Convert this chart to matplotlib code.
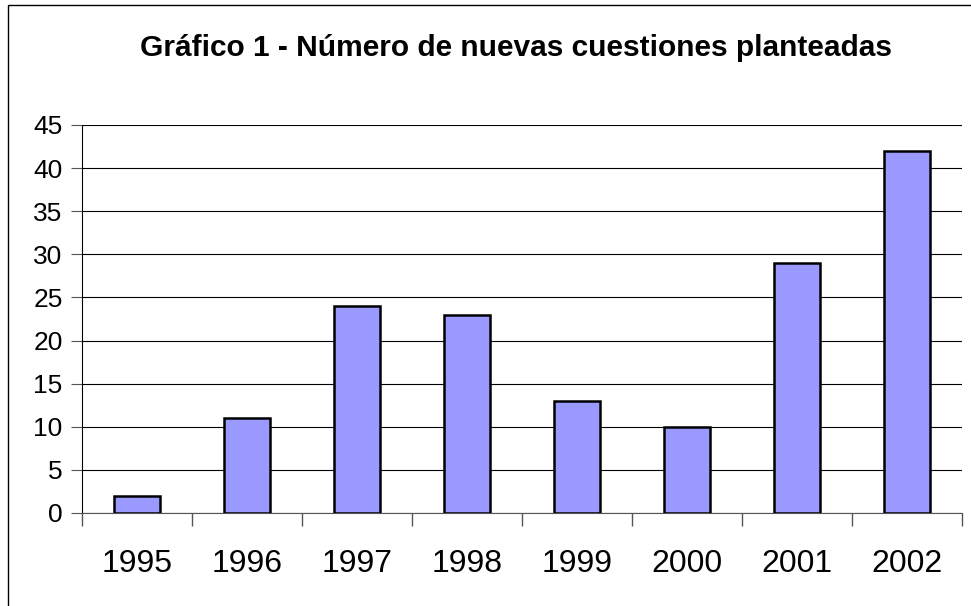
import matplotlib.pyplot as plt
from matplotlib.patches import Rectangle

years = ['1995', '1996', '1997', '1998', '1999', '2000', '2001', '2002']
cuestiones = [2, 11, 24, 23, 13, 10, 29, 42]

plt.rcParams['font.family'] = ['Liberation Sans', 'DejaVu Sans']

fig = plt.figure(figsize=(9.71, 6.06), dpi=100)
ax = fig.add_axes([82/971, 1 - 513/606, 880/971, 388/606])

# chart area border (cut off at right and bottom as in the original)
fig.patches.append(Rectangle((8/971, -0.1), 1.2, 1 - 5/606 + 0.1, transform=fig.transFigure,
                             fill=False, edgecolor='black', lw=1.0, zorder=0))

pos = range(len(years))
ax.bar(pos, cuestiones, width=0.41, color='#9999ff', edgecolor='black', lw=1.8, zorder=3)

ax.set_xlim(-0.5, len(years) - 0.5)
ax.set_ylim(0, 45)
ax.set_yticks(range(0, 46, 5))
ax.yaxis.grid(True, color='black', lw=0.8, zorder=0)
ax.tick_params(axis='y', labelsize=19, length=8, width=0.8, pad=6, color='#555555')

# ticks at category boundaries, labels centred
ax.set_xticks([i + 0.5 for i in range(-1, len(years))])
ax.set_xticklabels([])
ax.set_xticks(list(pos), minor=True)
ax.set_xticklabels(years, minor=True, fontsize=23)
ax.tick_params(axis='x', which='major', length=9, width=1, color='#555555')
ax.tick_params(axis='x', which='minor', length=0, pad=26)

for s in ['top', 'right']:
    ax.spines[s].set_visible(False)
ax.spines['left'].set_color('black')
ax.spines['bottom'].set_color('#555555')

fig.text(0.5 + 30/971, 1 - 48/606, 'Gráfico 1 - Número de nuevas cuestiones planteadas',
         ha='center', va='center', fontsize=21.5, fontweight='bold')

fig.savefig('out.png', dpi=100)
